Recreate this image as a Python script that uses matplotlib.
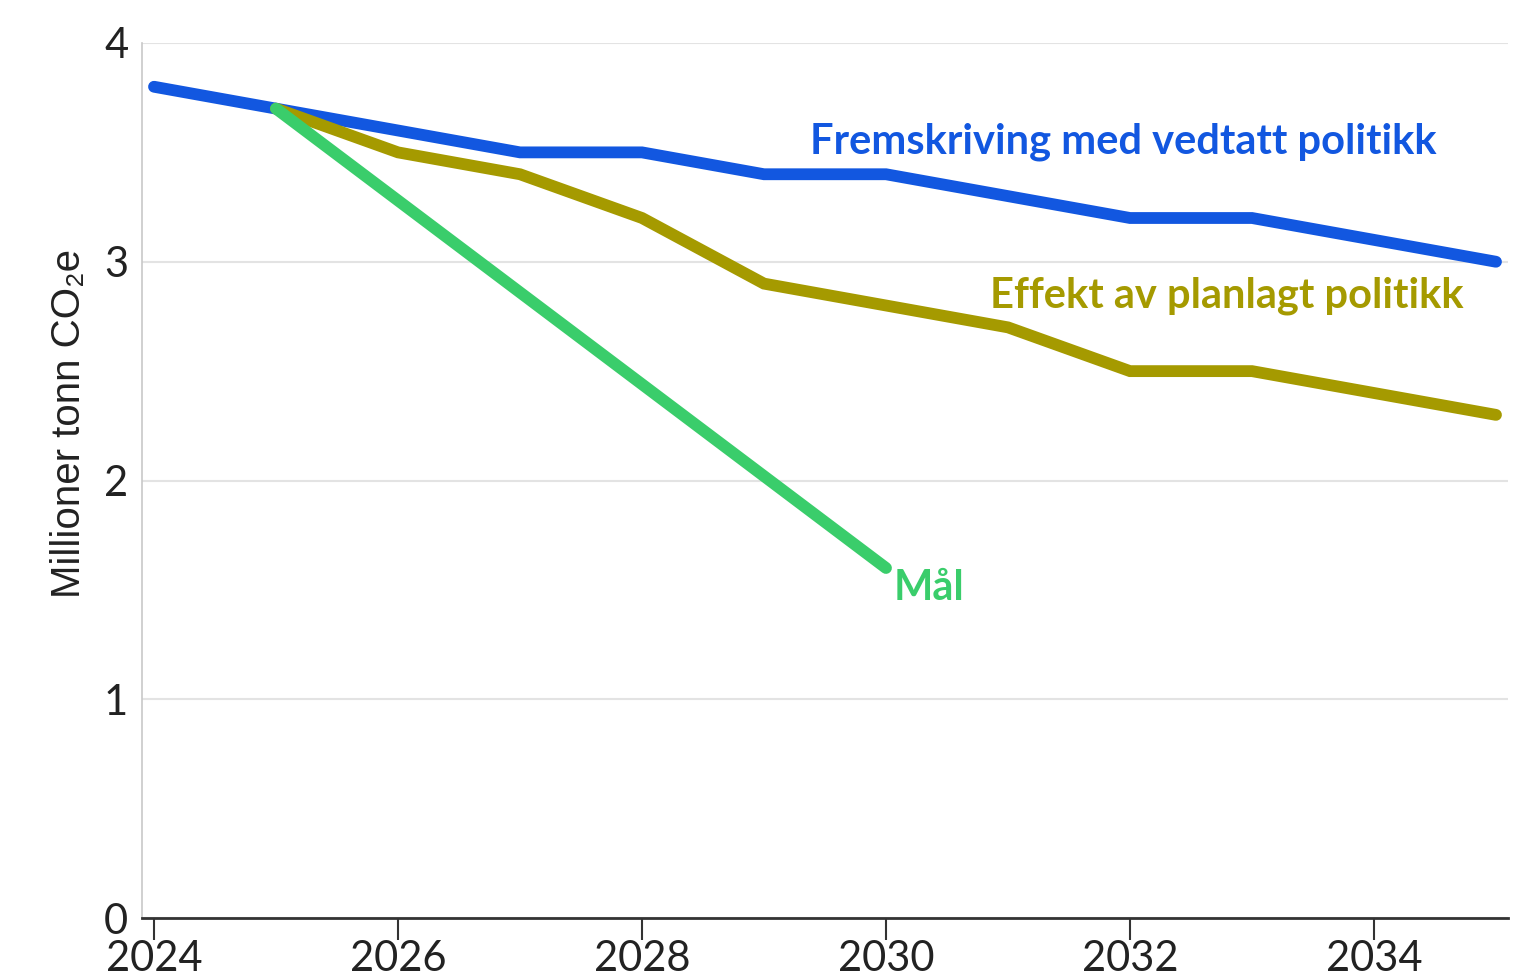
import matplotlib.pyplot as plt

years = list(range(2024, 2036))
vedtatt = [3.8, 3.7, 3.6, 3.5, 3.5, 3.4, 3.4, 3.3, 3.2, 3.2, 3.1, 3.0]
plan_years = list(range(2025, 2036))
planlagt = [3.7, 3.5, 3.4, 3.2, 2.9, 2.8, 2.7, 2.5, 2.5, 2.4, 2.3]
maal_years = [2025, 2030]
maal = [3.7, 1.6]

blue = "#1257e0"
olive = "#a59a00"
green = "#3acd6b"

fig = plt.figure(figsize=(15.37, 9.75), dpi=100)
ax = fig.add_axes([142/1537, 1 - 918/975, (1508-142)/1537, (918-43)/975])

lw = 8.5
ax.plot(years, vedtatt, color=blue, lw=lw, solid_capstyle="round", solid_joinstyle="miter", zorder=3)
ax.plot(plan_years, planlagt, color=olive, lw=lw, solid_capstyle="round", solid_joinstyle="miter", zorder=4)
ax.plot(maal_years, maal, color=green, lw=lw, solid_capstyle="round", zorder=5)

lab_kw = dict(fontsize=30, fontweight="bold", family="Lato", va="center", ha="left")
ax.text(2029.38, 3.55, "Fremskriving med vedtatt politikk", color=blue, **lab_kw)
ax.text(2030.85, 2.845, "Effekt av planlagt politikk", color=olive, **lab_kw)
ax.text(2030.06, 1.51, "Mål", color=green, **lab_kw)

ax.set_xlim(2024 - 12/122, 2035 + 12/122)
ax.set_ylim(0, 4)
ax.set_yticks([0, 1, 2, 3, 4])
ax.set_xticks([2024, 2026, 2028, 2030, 2032, 2034])
ax.grid(axis="y", color="#e3e3e3", lw=1.5)
ax.set_axisbelow(True)

for s in ["top", "right"]:
    ax.spines[s].set_visible(False)
ax.spines["left"].set_color("#c8c8c8")
ax.spines["left"].set_linewidth(1.2)
ax.spines["bottom"].set_color("#333333")
ax.spines["bottom"].set_linewidth(2)

ax.tick_params(axis="y", length=0, pad=10, labelsize=30, labelcolor="#222222")
ax.tick_params(axis="x", length=16, width=1.5, color="#333333", pad=0, labelsize=30, labelcolor="#222222")
for lab in ax.get_xticklabels() + ax.get_yticklabels():
    lab.set_family("Lato")

ax.set_ylabel("Millioner tonn CO₂e", fontsize=29, family="Liberation Sans", color="#222222")
ax.yaxis.set_label_coords(-0.0395, 0.565)

fig.savefig("out.png", dpi=100)
